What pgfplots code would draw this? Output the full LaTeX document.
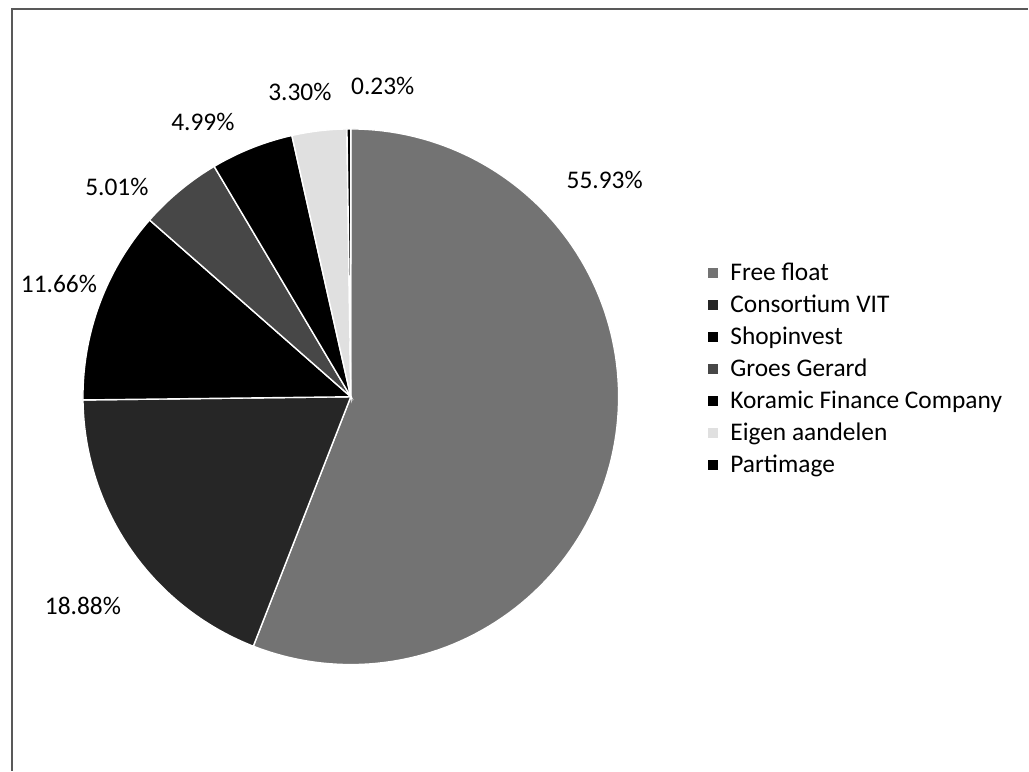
\documentclass[border=0pt]{standalone}
\usepackage{pgfplots}
\pgfplotsset{compat=1.18}
\usepackage{fontspec}
\setmainfont{Carlito}
\def\curang{90}
\newcommand\pieslice[3]{%
  \pgfmathsetmacro\nextang{\curang-#1*3.6}%
  \edef\doslice{\noexpand\addplot[#2,draw=white,line width=0.7pt,domain=\nextang:\curang,samples=120] ({351+268*cos(x)},{374+268*sin(x)}) -- (axis cs:351,374) -- cycle;}%
  \doslice
  \addlegendentry{#3}%
  \global\let\curang\nextang
}
\begin{document}
\begin{tikzpicture}
\begin{axis}[
  width=514.5pt, height=385.5pt, scale only axis,
  xmin=0, xmax=1029, ymin=0, ymax=771,
  hide axis, clip=false,
  legend image code/.code={\fill[#1,draw=none] (0pt,-2.6pt) rectangle (5.2pt,2.6pt);},
  legend style={draw=none, fill=none, at={(axis cs:702,515)}, anchor=north west,
    font=\fontsize{12.7}{15}\selectfont, legend cell align=left,
    nodes={inner sep=0pt, text height=10pt, text depth=3pt},
    row sep=3pt, column sep=6pt},
]
\addplot[draw=none, forget plot] coordinates {(0,0) (1029,771)};
\addplot[black!65, line width=0.6pt, forget plot] coordinates {(12,0) (12,762) (1029,762)};
\pieslice{55.93}{fill=black!55}{Free float}
\pieslice{18.88}{fill=black!85}{Consortium VIT}
\pieslice{11.66}{fill=black}{Shopinvest}
\pieslice{5.01}{fill=black!72}{Groes Gerard}
\pieslice{4.99}{fill=black}{Koramic Finance Company}
\pieslice{3.30}{fill=black!12}{Eigen aandelen}
\pieslice{0.23}{fill=black}{Partimage}
\begin{scope}[font=\fontsize{12.7}{15}\selectfont]
\node at (axis cs:605,591) {55.93\%};
\node at (axis cs:383,685) {0.23\%};
\node at (axis cs:300,679) {3.30\%};
\node at (axis cs:203,649) {4.99\%};
\node at (axis cs:117,584) {5.01\%};
\node at (axis cs:59,487) {11.66\%};
\node at (axis cs:83,165) {18.88\%};
\end{scope}
\end{axis}
\end{tikzpicture}
\end{document}
